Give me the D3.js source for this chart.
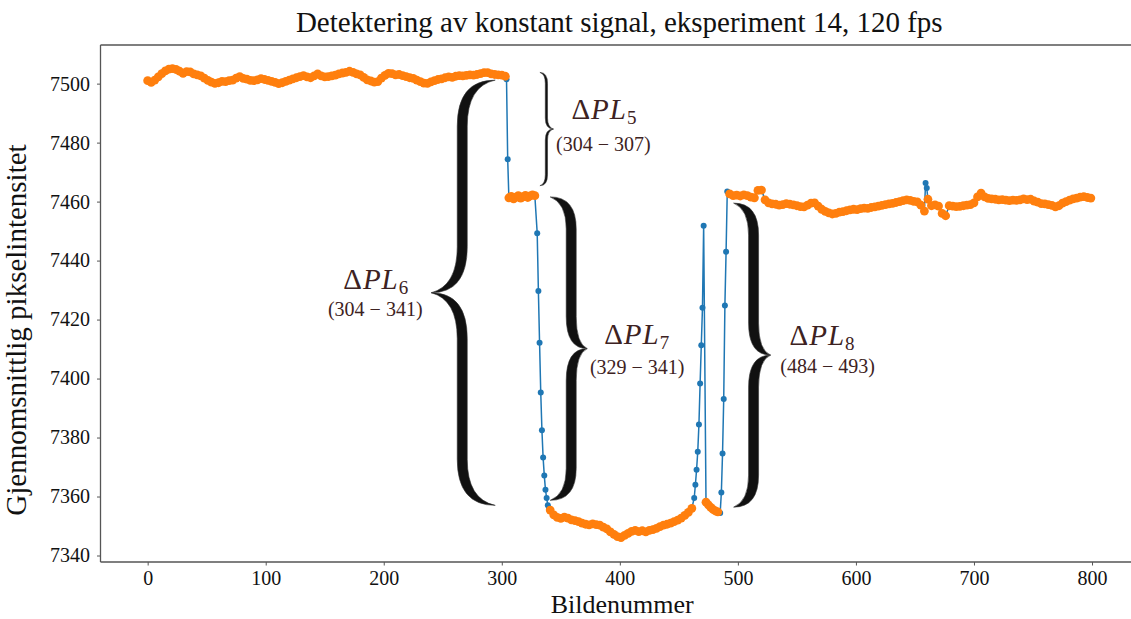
<!DOCTYPE html>
<meta charset="utf-8">
<script src="https://d3js.org/d3.v7.min.js"></script>
<style>
  body { margin: 0; background: #fff; }
  text { font-family: "Liberation Serif", "Times New Roman", serif; }
</style>
<div id="chart"></div>
<script>

// steady (orange) runs: first frame, frame step, read values
var steadyStart = [0, 306, 341, 473, 493];
var steadyStep  = [3, 2, 3, 2, 3];

var steadyA = [
  7501.0, 7500.4, 7501.2, 7502.3, 7503.4, 7504.3, 7504.9, 7505.1, 7504.8, 7504.2,
  7503.5, 7504.1, 7504.0, 7503.3, 7503.0, 7502.6, 7501.9, 7501.1, 7500.5, 7500.1,
  7500.3, 7500.8, 7500.7, 7501.0, 7501.2, 7501.9, 7502.4, 7501.8, 7501.5, 7501.1,
  7501.0, 7501.3, 7501.7, 7501.4, 7501.1, 7500.8, 7500.4, 7500.0, 7500.3, 7500.8,
  7501.2, 7501.6, 7502.0, 7502.4, 7502.7, 7502.3, 7502.0, 7502.6, 7503.3, 7502.6,
  7502.3, 7502.4, 7502.6, 7502.9, 7503.3, 7503.6, 7503.8, 7504.2, 7503.8, 7503.3,
  7503.0, 7502.1, 7501.3, 7500.9, 7500.5, 7500.7, 7501.9, 7502.8, 7503.5, 7503.4,
  7503.0, 7503.1, 7502.7, 7502.4, 7502.0, 7501.8, 7501.2, 7500.7, 7500.2, 7500.1,
  7500.6, 7501.0, 7501.4, 7501.6, 7502.0, 7502.3, 7502.1, 7502.5, 7502.7, 7502.6,
  7502.8, 7503.0, 7502.9, 7503.1, 7503.4, 7503.7, 7503.7, 7503.3, 7503.1, 7503.0,
  7502.9, 7502.5
];
var steadyB = [7461.3, 7461.8, 7460.9, 7461.5, 7462.0, 7461.2, 7461.6, 7462.1, 7461.4, 7461.9, 7462.3, 7462.0];
var steadyC = [
  7355.4, 7353.8, 7352.9, 7352.6, 7353.0, 7352.7, 7352.1, 7351.8, 7351.5, 7351.0,
  7350.6, 7350.4, 7350.7, 7350.5, 7350.3, 7349.6, 7349.0, 7348.0, 7347.2, 7346.4,
  7346.1, 7346.8, 7347.5, 7348.2, 7348.5, 7348.1, 7348.4, 7348.0, 7348.5, 7348.8,
  7349.2, 7349.8, 7350.3, 7350.6, 7351.0, 7351.5, 7352.0, 7352.7, 7353.6, 7354.6,
  7356.0
];
var steadyD = [7358.1, 7357.2, 7356.3, 7355.6, 7355.1, 7354.8];
var steadyE = [
  7462.6, 7462.0, 7462.2, 7461.9, 7462.3, 7462.0, 7461.5, 7461.3, 7463.8, 7463.9,
  7460.6, 7459.6, 7459.2, 7459.1, 7458.8, 7459.0, 7459.3, 7459.1, 7458.9, 7458.6,
  7458.3, 7458.2, 7458.8, 7459.5, 7459.6, 7458.5, 7457.4, 7456.7, 7456.2, 7455.8,
  7456.0, 7456.4, 7456.6, 7456.9, 7457.2, 7457.4, 7457.3, 7457.6, 7457.8, 7457.7,
  7458.0, 7458.2, 7458.5, 7458.7, 7459.0, 7459.2, 7459.4, 7459.7, 7460.0, 7460.3,
  7460.6, 7460.4, 7460.1, 7459.9, 7458.8, 7456.8, 7460.8, 7458.6, 7458.9, 7458.5,
  7456.0, 7455.2, 7458.6, 7458.5, 7458.3, 7458.4, 7458.6, 7458.8, 7459.0, 7459.6,
  7461.6, 7462.9, 7461.6, 7461.1, 7460.9, 7460.8, 7460.6, 7460.7, 7460.5, 7460.3,
  7460.5, 7460.4, 7460.6, 7460.9, 7460.7, 7460.8, 7460.2, 7459.8, 7459.3, 7459.2,
  7459.0, 7458.7, 7458.2, 7458.6, 7459.5, 7460.0, 7460.5, 7460.9, 7461.2, 7461.5,
  7461.7, 7461.4, 7461.2
];
var steadyRuns = [steadyA, steadyB, steadyC, steadyD, steadyE];

// frames in transition (blue only)
var changeFrames = [304, 305,
  330, 331, 332, 333, 334, 335, 336, 337, 338, 339, 340,
  463, 464, 465, 466, 467, 468, 469, 470, 471,
  485, 486, 487, 488, 489, 490, 491,
  659, 660];
var changeValues = [7501.5, 7474.4,
  7449.3, 7429.7, 7412.1, 7395.3, 7382.5, 7373.2, 7367.1, 7362.3, 7359.5, 7357.0, 7356.0,
  7359.5, 7364.0, 7369.1, 7375.2, 7384.4, 7398.3, 7411.3, 7424.0, 7451.8,
  7354.4, 7361.4, 7374.6, 7393.1, 7424.8, 7443.0, 7463.4,
  7466.3, 7464.6];

var xTicks = [0, 100, 200, 300, 400, 500, 600, 700, 800];
var yTicks = [7340, 7360, 7380, 7400, 7420, 7440, 7460, 7480, 7500];

// annotations: name subscript, frame range text, bracketed levels, frame of brace stem
var braceSub    = ["5", "6", "7", "8"];
var braceRange  = ["(304 \u2212 307)", "(304 \u2212 341)", "(329 \u2212 341)", "(484 \u2212 493)"];
var braceTop    = [7503.8, 7501.2, 7461.6, 7459.5];
var braceBottom = [7465.4, 7357.0, 7358.7, 7356.4];
var braceFrame  = [337.8, 266.5, 358.8, 513.3];

// ------------------------------------------------------------

var W = 1131, H = 619;
var margin = {top: 45, left: 100.5, bottom: 57},
    plotRight = 1138,
    height = H - margin.top - margin.bottom;

var svg = d3.select("#chart").append("svg")
    .attr("width", W).attr("height", H);

var x = d3.scaleLinear().domain([-39.95, 838.95]).range([margin.left, plotRight]);
var y = d3.scaleLinear().domain([7337.8, 7513.1]).range([margin.top + height, margin.top]);

// build points
var steadyPts = [];
steadyRuns.forEach(function(run, k) {
  run.forEach(function(v, i) {
    steadyPts.push({f: steadyStart[k] + i * steadyStep[k], v: v});
  });
});
var changePts = changeFrames.map(function(f, i) { return {f: f, v: changeValues[i]}; });
var allPts = steadyPts.concat(changePts).sort(function(a, b) { return a.f - b.f; });

// braces (behind data)
function bracePath(xv, y0, y1, dir, arm, tip, w, r) {
  var ym = (y0 + y1) / 2, h = w / 2;
  var xa = xv - dir * arm, xt = xv + dir * tip;
  var xo = xv + dir * h, xi = xv - dir * h;
  return "M" + xa + "," + y0 +
    " Q" + xo + "," + y0 + " " + xo + "," + (y0 + r) +
    " L" + xo + "," + (ym - r) +
    " Q" + xo + "," + (ym - r * 0.15) + " " + xt + "," + ym +
    " Q" + xo + "," + (ym + r * 0.15) + " " + xo + "," + (ym + r) +
    " L" + xo + "," + (y1 - r) +
    " Q" + xo + "," + y1 + " " + xa + "," + y1 +
    " Q" + xi + "," + (y1 - h * 1.2) + " " + xi + "," + (y1 - r) +
    " L" + xi + "," + (ym + r) +
    " Q" + xi + "," + ym + " " + xt + "," + ym +
    " Q" + xi + "," + ym + " " + xi + "," + (ym - r) +
    " L" + xi + "," + (y0 + r) +
    " Q" + xi + "," + (y0 + h * 1.2) + " " + xa + "," + y0 + " Z";
}
var braceShape = [
  {dir: 1,  arm: 6.5, tip: 7,  w: 2.2, r: 11, lx: 51,  ly: -10, rx: 50,  ry: 22},
  {dir: -1, arm: 33,  tip: 31, w: 10,  r: 46, lx: -55, ly: -4,  rx: -56, ry: 23},
  {dir: 1,  arm: 21,  tip: 16, w: 10,  r: 32, lx: 50,  ly: -5,  rx: 50,  ry: 25},
  {dir: 1,  arm: 20,  tip: 17, w: 10,  r: 32, lx: 52,  ly: -10, rx: 57,  ry: 18}
];

var gBr = svg.append("g");
braceSub.forEach(function(s, i) {
  var b = braceShape[i];
  var xv = x(braceFrame[i]), y0 = y(braceTop[i]), y1 = y(braceBottom[i]);
  gBr.append("path")
    .attr("d", bracePath(xv, y0, y1, b.dir, b.arm, b.tip, b.w, b.r))
    .attr("fill", "#111")
    .attr("stroke", "#333")
    .attr("stroke-width", 0.6);
});

// blue line + markers
var line = d3.line().x(function(d) { return x(d.f); }).y(function(d) { return y(d.v); });
svg.append("path")
  .datum(allPts)
  .attr("d", line)
  .attr("fill", "none")
  .attr("stroke", "#1f77b4")
  .attr("stroke-width", 1.5);
svg.append("g").selectAll("circle")
  .data(allPts).enter().append("circle")
    .attr("cx", function(d) { return x(d.f); })
    .attr("cy", function(d) { return y(d.v); })
    .attr("r", 3)
    .attr("fill", "#1f77b4");

// orange steady markers
svg.append("g").selectAll("circle")
  .data(steadyPts).enter().append("circle")
    .attr("cx", function(d) { return x(d.f); })
    .attr("cy", function(d) { return y(d.v); })
    .attr("r", 4.4)
    .attr("fill", "#ff7f0e");

// brace labels
var labelColor = "#3d2222";
braceSub.forEach(function(s, i) {
  var b = braceShape[i];
  var tipX = x(braceFrame[i]) + b.dir * b.tip;
  var midY = (y(braceTop[i]) + y(braceBottom[i])) / 2;
  var t = svg.append("text")
    .attr("x", tipX + b.lx).attr("y", midY + b.ly)
    .attr("text-anchor", "middle")
    .attr("fill", labelColor)
    .style("font-size", "29px")
    .style("letter-spacing", "1px");
  t.append("tspan").text("\u0394");
  t.append("tspan").style("font-style", "italic").text("PL");
  t.append("tspan").attr("dy", 5).style("font-size", "19px").text(s);
  svg.append("text")
    .attr("x", tipX + b.rx).attr("y", midY + b.ry)
    .attr("text-anchor", "middle")
    .attr("fill", labelColor)
    .style("font-size", "20px")
    .text(braceRange[i]);
});

// axes
var axisColor = "#555";
var gx = svg.append("g")
  .attr("transform", "translate(0," + (margin.top + height) + ")")
  .call(d3.axisBottom(x).tickValues(xTicks).tickSize(3.5).tickPadding(5.5));
var gy = svg.append("g")
  .attr("transform", "translate(" + margin.left + ",0)")
  .call(d3.axisLeft(y).tickValues(yTicks).tickSize(3.5).tickPadding(7).tickFormat(d3.format("d")));
[gx, gy].forEach(function(g) {
  g.select(".domain").remove();
  g.selectAll(".tick line").attr("stroke", axisColor);
  g.selectAll(".tick text")
    .attr("fill", "#111")
    .style("font-family", "'Liberation Serif', serif")
    .style("font-size", "20px");
});

// spines: left, top, bottom (right is outside the image)
var spine = svg.append("g").attr("stroke", axisColor).attr("stroke-width", 1.3).attr("fill", "none");
spine.append("line").attr("x1", margin.left).attr("x2", margin.left).attr("y1", margin.top).attr("y2", margin.top + height);
spine.append("line").attr("x1", margin.left).attr("x2", plotRight).attr("y1", margin.top).attr("y2", margin.top);
spine.append("line").attr("x1", margin.left).attr("x2", plotRight).attr("y1", margin.top + height).attr("y2", margin.top + height);

// titles
svg.append("text")
  .attr("x", (margin.left + plotRight) / 2).attr("y", 32)
  .attr("text-anchor", "middle")
  .attr("fill", "#111")
  .style("font-size", "29px")
  .text("Detektering av konstant signal, eksperiment 14, 120 fps");

svg.append("text")
  .attr("x", (margin.left + plotRight) / 2 + 3).attr("y", 613)
  .attr("text-anchor", "middle")
  .attr("fill", "#111")
  .style("font-size", "26px")
  .text("Bildenummer");

svg.append("text")
  .attr("transform", "translate(26,330) rotate(-90)")
  .attr("text-anchor", "middle")
  .attr("fill", "#111")
  .style("font-size", "29px")
  .text("Gjennomsnittlig pikselintensitet");

</script>
